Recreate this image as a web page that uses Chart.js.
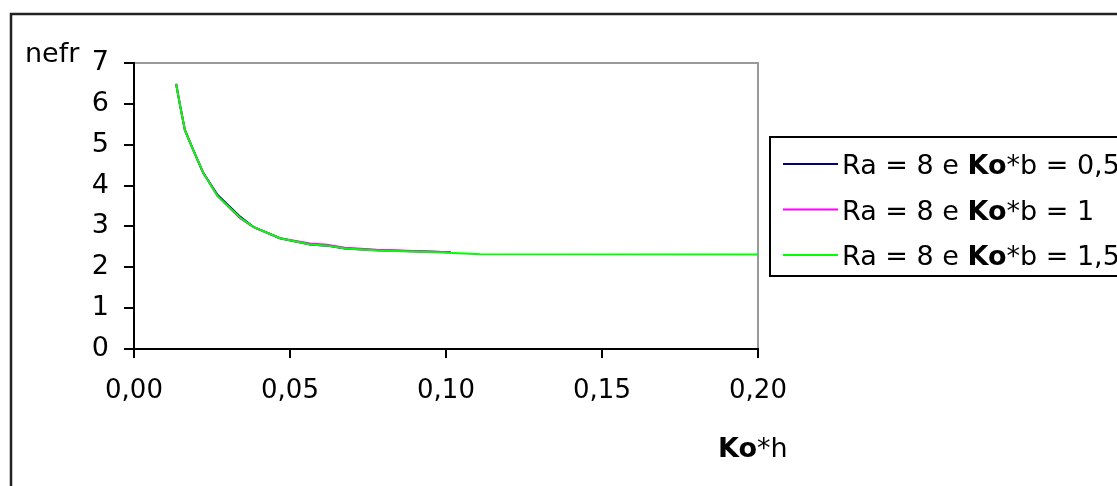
<!DOCTYPE html>
<html>
<head>
<meta charset="utf-8">
<script src="https://cdn.jsdelivr.net/npm/chart.js@4"></script>
<style>
  html, body { margin: 0; padding: 0; background: #fff; }
  #wrap { width: 1117px; height: 486px; }
</style>
</head>
<body>
<div id="wrap"><canvas id="chart" width="1117" height="486"></canvas></div>
<script>
// values
const koH = [0.0135, 0.0148, 0.0163, 0.019, 0.0222, 0.0268, 0.034, 0.0382, 0.0468, 0.0564, 0.0618, 0.0676, 0.0778, 0.099, 0.111, 0.2];
const nefrB15 = [6.49, 5.95, 5.36, 4.87, 4.31, 3.74, 3.22, 2.99, 2.71, 2.56, 2.53, 2.46, 2.41, 2.36, 2.32, 2.31];
const koHShort = [0.0135, 0.0148, 0.0163, 0.019, 0.0222, 0.0268, 0.034, 0.0382, 0.0468, 0.0564, 0.0618, 0.0676, 0.0778, 0.1015];
const nefrB05 = [6.49, 5.95, 5.36, 4.87, 4.31, 3.77, 3.24, 2.99, 2.71, 2.56, 2.53, 2.46, 2.42, 2.37];
const nefrB1 = [6.49, 5.95, 5.36, 4.87, 4.31, 3.74, 3.2, 2.99, 2.71, 2.58, 2.55, 2.48, 2.43, 2.37];
const seriesLabels = ['Ra = 8 e |Ko|*b = 0,5', 'Ra = 8 e |Ko|*b = 1', 'Ra = 8 e |Ko|*b = 1,5'];
const seriesColors = ['#000080', '#ff00ff', '#00ff00'];
const xTicks = [0, 0.05, 0.1, 0.15, 0.2];
const yTicks = [0, 1, 2, 3, 4, 5, 6, 7];

const FONT = '"DejaVu Sans", sans-serif';
const toPts = (xs, ys) => xs.map((x, i) => ({ x, y: ys[i] }));

// draws text where parts between | are bold
function mixedText(ctx, str, x, y, size) {
  const parts = str.split('|');
  parts.forEach((p, i) => {
    ctx.font = (i % 2 ? 'bold ' : '') + size + 'px ' + FONT;
    ctx.fillText(p, x, y);
    x += ctx.measureText(p).width;
  });
}

const decor = {
  id: 'decor',
  beforeDraw(chart) {
    const ctx = chart.ctx;
    const a = chart.chartArea;
    ctx.save();
    ctx.fillStyle = '#fff';
    ctx.fillRect(0, 0, chart.width, chart.height);
    // outer frame
    ctx.strokeStyle = '#222';
    ctx.lineWidth = 2.5;
    ctx.beginPath();
    ctx.moveTo(11, chart.height);
    ctx.lineTo(11, 14);
    ctx.lineTo(chart.width, 14);
    ctx.stroke();
    // plot area top and right border
    ctx.strokeStyle = '#999';
    ctx.lineWidth = 2;
    ctx.beginPath();
    ctx.moveTo(a.left, a.top);
    ctx.lineTo(a.right, a.top);
    ctx.lineTo(a.right, a.bottom);
    ctx.stroke();
    ctx.restore();
  },
  afterDraw(chart) {
    const ctx = chart.ctx;
    ctx.save();
    ctx.fillStyle = '#000';
    ctx.textBaseline = 'alphabetic';
    ctx.font = '27px ' + FONT;
    ctx.fillText('nefr', 25, 62);
    mixedText(ctx, '|Ko|*h', 718, 457, 27);
    // legend
    ctx.strokeStyle = '#000';
    ctx.lineWidth = 2;
    ctx.strokeRect(770, 137, 400, 139);
    seriesLabels.forEach((lab, i) => {
      const y = 164 + i * 45.5;
      ctx.strokeStyle = seriesColors[i];
      ctx.lineWidth = 2;
      ctx.beginPath();
      ctx.moveTo(783, y);
      ctx.lineTo(838, y);
      ctx.stroke();
      ctx.fillStyle = '#000';
      mixedText(ctx, lab, 842, y + 10, 27);
    });
    ctx.restore();
  }
};

new Chart(document.getElementById('chart'), {
  type: 'line',
  data: {
    datasets: [
      { label: seriesLabels[0], data: toPts(koHShort, nefrB05), borderColor: seriesColors[0], order: 2 },
      { label: seriesLabels[1], data: toPts(koHShort, nefrB1), borderColor: seriesColors[1], order: 1 },
      { label: seriesLabels[2], data: toPts(koH, nefrB15), borderColor: seriesColors[2], order: 0 },
    ],
  },
  options: {
    responsive: false,
    animation: false,
    events: [],
    layout: { padding: { left: 0, top: 63, right: 359, bottom: 0 } },
    elements: {
      point: { radius: 0 },
      line: { borderWidth: 2, tension: 0 },
    },
    scales: {
      x: {
        type: 'linear',
        min: 0,
        max: 0.2,
        afterFit(s) { s.height = 137; },
        afterBuildTicks(s) { s.ticks = xTicks.map(v => ({ value: v })); },
        border: { color: '#000', width: 2 },
        grid: { drawOnChartArea: false, drawTicks: true, tickLength: 9, color: '#000', lineWidth: 2 },
        ticks: {
          color: '#000',
          font: { family: FONT, size: 26 },
          padding: 18,
          maxRotation: 0,
          callback: v => v.toFixed(2).replace('.', ','),
        },
      },
      y: {
        min: 0,
        max: 7,
        afterFit(s) { s.width = 134; },
        afterBuildTicks(s) { s.ticks = yTicks.map(v => ({ value: v })); },
        border: { color: '#000', width: 2 },
        grid: { drawOnChartArea: false, drawTicks: true, tickLength: 10, color: '#000', lineWidth: 2 },
        ticks: {
          color: '#000',
          font: { family: FONT, size: 27 },
          padding: 15,
        },
      },
    },
    plugins: {
      legend: { display: false },
      tooltip: { enabled: false },
    },
  },
  plugins: [decor],
});
</script>
</body>
</html>
